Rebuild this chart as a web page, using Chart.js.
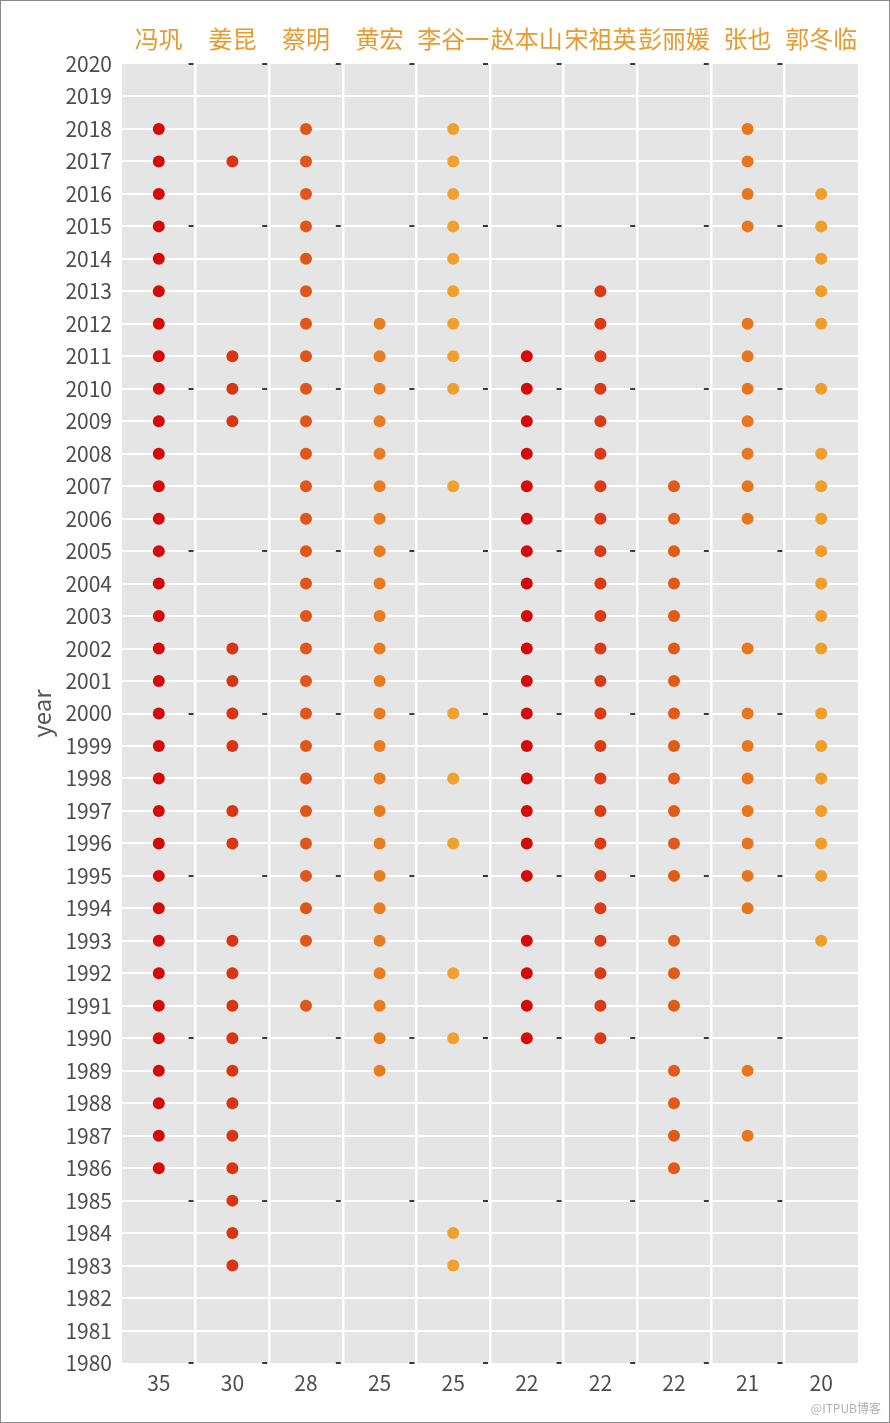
<!DOCTYPE html>
<html lang="zh">
<head>
  <meta charset="UTF-8" />
  <title>春晚常客</title>
  <script src="https://cdn.jsdelivr.net/npm/chart.js"></script>
  <style>
    html, body { margin: 0; padding: 0; background: #fff; }
    #wrap {
      position: relative;
      width: 890px;
      height: 1423px;
      box-sizing: border-box;
      border: 1px solid #8a8a8a;
    }
    #mark {
      position: absolute;
      right: 8px;
      bottom: 6px;
      font-family: 'Noto Sans CJK SC', sans-serif;
      font-size: 12px;
      color: #b0b0b0;
    }
  </style>
</head>
<body>
  <div id="wrap">
    <canvas id="chart" width="888" height="1421"></canvas>
    <div id="mark">@ITPUB博客</div>
  </div>

  <script>
    const names = ['冯巩', '姜昆', '蔡明', '黄宏', '李谷一', '赵本山', '宋祖英', '彭丽媛', '张也', '郭冬临'];
    const counts = ['35', '30', '28', '25', '25', '22', '22', '22', '21', '20'];
    const colors = ['#d50b0b', '#d93512', '#e0561a', '#e87c20', '#f0a02c', '#d50b0b', '#db3a14', '#e05a1a', '#e8761e', '#f09e2a'];

    const fengGong = [2018, 2017, 2016, 2015, 2014, 2013, 2012, 2011, 2010, 2009, 2008, 2007, 2006, 2005, 2004, 2003, 2002, 2001, 2000, 1999, 1998, 1997, 1996, 1995, 1994, 1993, 1992, 1991, 1990, 1989, 1988, 1987, 1986];
    const jiangKun = [2017, 2011, 2010, 2009, 2002, 2001, 2000, 1999, 1997, 1996, 1993, 1992, 1991, 1990, 1989, 1988, 1987, 1986, 1985, 1984, 1983];
    const caiMing = [2018, 2017, 2016, 2015, 2014, 2013, 2012, 2011, 2010, 2009, 2008, 2007, 2006, 2005, 2004, 2003, 2002, 2001, 2000, 1999, 1998, 1997, 1996, 1995, 1994, 1993, 1991];
    const huangHong = [2012, 2011, 2010, 2009, 2008, 2007, 2006, 2005, 2004, 2003, 2002, 2001, 2000, 1999, 1998, 1997, 1996, 1995, 1994, 1993, 1992, 1991, 1990, 1989];
    const liGuyi = [2018, 2017, 2016, 2015, 2014, 2013, 2012, 2011, 2010, 2007, 2000, 1998, 1996, 1992, 1990, 1984, 1983];
    const zhaoBenshan = [2011, 2010, 2009, 2008, 2007, 2006, 2005, 2004, 2003, 2002, 2001, 2000, 1999, 1998, 1997, 1996, 1995, 1993, 1992, 1991, 1990];
    const songZuying = [2013, 2012, 2011, 2010, 2009, 2008, 2007, 2006, 2005, 2004, 2003, 2002, 2001, 2000, 1999, 1998, 1997, 1996, 1995, 1994, 1993, 1992, 1991, 1990];
    const pengLiyuan = [2007, 2006, 2005, 2004, 2003, 2002, 2001, 2000, 1999, 1998, 1997, 1996, 1995, 1993, 1992, 1991, 1989, 1988, 1987, 1986];
    const zhangYe = [2018, 2017, 2016, 2015, 2012, 2011, 2010, 2009, 2008, 2007, 2006, 2002, 2000, 1999, 1998, 1997, 1996, 1995, 1994, 1989, 1987];
    const guoDonglin = [2016, 2015, 2014, 2013, 2012, 2010, 2008, 2007, 2006, 2005, 2004, 2003, 2002, 2000, 1999, 1998, 1997, 1996, 1995, 1993];

    const years = [fengGong, jiangKun, caiMing, huangHong, liGuyi, zhaoBenshan, songZuying, pengLiyuan, zhangYe, guoDonglin];

    const FONT = "'Noto Sans CJK SC', sans-serif";

    // grey panel behind the grid
    const panelBg = {
      id: 'panelBg',
      beforeDraw(chart) {
        const { ctx, chartArea: a } = chart;
        ctx.save();
        ctx.fillStyle = '#fff';
        ctx.fillRect(0, 0, chart.width, chart.height);
        ctx.fillStyle = '#e5e5e5';
        ctx.fillRect(a.left, a.top, a.right - a.left, a.bottom - a.top);
        ctx.restore();
      }
    };

    // small dark dashes at the column borders every 5 years
    const borderDashes = {
      id: 'borderDashes',
      beforeDatasetsDraw(chart) {
        const { ctx, scales: { x, y } } = chart;
        ctx.save();
        ctx.strokeStyle = '#3a3a3a';
        ctx.lineWidth = 2;
        for (let i = 0; i < names.length - 1; i++) {
          const bx = (x.getPixelForValue(i) + x.getPixelForValue(i + 1)) / 2;
          for (let yr = 1980; yr <= 2020; yr += 5) {
            const py = Math.round(y.getPixelForValue(yr));
            ctx.beginPath();
            ctx.moveTo(bx - 7, py);
            ctx.lineTo(bx - 2, py);
            ctx.stroke();
          }
        }
        ctx.restore();
      }
    };

    const datasets = names.map((n, i) => ({
      label: n,
      data: years[i].map(yr => ({ x: n, y: yr })),
      backgroundColor: colors[i],
      borderColor: colors[i],
      pointRadius: 6,
      pointHoverRadius: 6,
      borderWidth: 0
    }));

    new Chart(document.getElementById('chart').getContext('2d'), {
      type: 'scatter',
      data: { datasets: datasets },
      options: {
        responsive: false,
        animation: false,
        layout: { padding: { left: 0, right: 31, top: 0, bottom: 0 } },
        plugins: {
          legend: { display: false },
          tooltip: { enabled: false }
        },
        scales: {
          x: {
            type: 'category',
            labels: names,
            position: 'top',
            offset: true,
            afterFit: s => { s.height = 63; },
            border: { display: false },
            grid: {
              offset: true,
              drawTicks: false,
              lineWidth: 2.5,
              color: c => (c.type !== 'tick' || c.index === 0) ? 'rgba(0,0,0,0)' : '#ffffff'
            },
            ticks: {
              autoSkip: false,
              maxRotation: 0,
              padding: 11,
              color: '#e89a2e',
              font: { family: FONT, size: 24 }
            }
          },
          x2: {
            type: 'category',
            labels: counts,
            position: 'bottom',
            offset: true,
            afterFit: s => { s.height = 59; },
            border: { display: false },
            grid: { display: false, drawTicks: false },
            ticks: {
              autoSkip: false,
              maxRotation: 0,
              padding: 7,
              color: '#4d4d4d',
              font: { family: FONT, size: 21 }
            }
          },
          y: {
            type: 'linear',
            min: 1980,
            max: 2020,
            afterFit: s => { s.width = 121; },
            border: { display: false },
            grid: {
              drawTicks: false,
              lineWidth: 2,
              color: c => (c.tick && (c.tick.value === 1980 || c.tick.value === 2020)) ? 'rgba(0,0,0,0)' : '#ffffff'
            },
            ticks: {
              stepSize: 1,
              autoSkip: false,
              padding: 10,
              color: '#4d4d4d',
              font: { family: FONT, size: 21 },
              callback: v => String(v)
            },
            title: {
              display: true,
              text: 'year',
              color: '#555555',
              padding: { top: 26, bottom: 0 },
              font: { family: FONT, size: 24 }
            }
          }
        }
      },
      plugins: [panelBg, borderDashes]
    });
  </script>
</body>
</html>
